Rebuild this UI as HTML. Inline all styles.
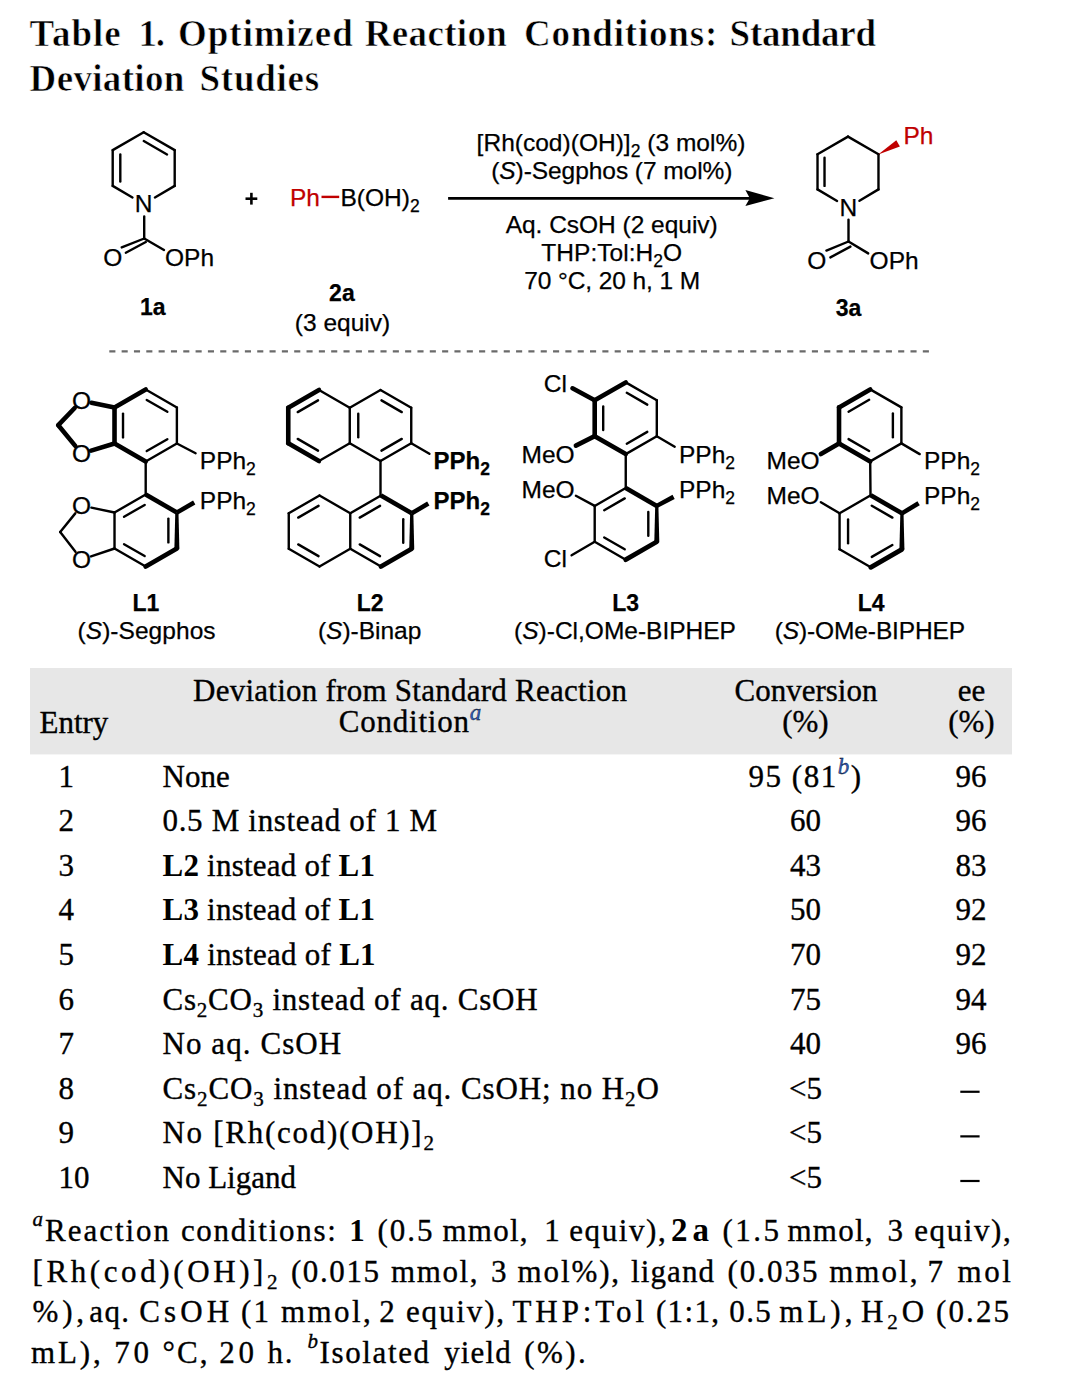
<!DOCTYPE html>
<html><head><meta charset="utf-8"><title>Table 1</title>
<style>html,body{margin:0;padding:0;background:#fff;}body{width:1080px;height:1387px;overflow:hidden;}svg{display:block;}text{white-space:pre;}</style>
</head><body>
<svg width="1080" height="1387" viewBox="0 0 1080 1387"><text x="29.60" y="45.80" font-family="Liberation Serif" font-size="37" font-weight="bold" text-anchor="start" fill="#000" stroke="#fff" stroke-width="0.6" textLength="91.1" lengthAdjust="spacing" style="">Table</text>
<text x="138.40" y="45.80" font-family="Liberation Serif" font-size="37" font-weight="bold" text-anchor="start" fill="#000" stroke="#fff" stroke-width="0.6" textLength="26.6" lengthAdjust="spacing" style="">1.</text>
<text x="177.90" y="45.80" font-family="Liberation Serif" font-size="37" font-weight="bold" text-anchor="start" fill="#000" stroke="#fff" stroke-width="0.6" textLength="174.9" lengthAdjust="spacing" style="">Optimized</text>
<text x="364.70" y="45.80" font-family="Liberation Serif" font-size="37" font-weight="bold" text-anchor="start" fill="#000" stroke="#fff" stroke-width="0.6" textLength="142.2" lengthAdjust="spacing" style="">Reaction</text>
<text x="524.00" y="45.80" font-family="Liberation Serif" font-size="37" font-weight="bold" text-anchor="start" fill="#000" stroke="#fff" stroke-width="0.6" textLength="193.3" lengthAdjust="spacing" style="">Conditions:</text>
<text x="729.60" y="45.80" font-family="Liberation Serif" font-size="37" font-weight="bold" text-anchor="start" fill="#000" stroke="#fff" stroke-width="0.6" textLength="146.5" lengthAdjust="spacing" style="">Standard</text>
<text x="29.60" y="91.00" font-family="Liberation Serif" font-size="37" font-weight="bold" text-anchor="start" fill="#000" stroke="#fff" stroke-width="0.6" textLength="154.7" lengthAdjust="spacing" style="">Deviation</text>
<text x="199.50" y="91.00" font-family="Liberation Serif" font-size="37" font-weight="bold" text-anchor="start" fill="#000" stroke="#fff" stroke-width="0.6" textLength="119.6" lengthAdjust="spacing" style="">Studies</text>
<line x1="143.70" y1="132.20" x2="174.70" y2="150.10" stroke="#000" stroke-width="2.4" stroke-linecap="round"/>
<line x1="174.70" y1="150.10" x2="174.70" y2="185.90" stroke="#000" stroke-width="2.4" stroke-linecap="round"/>
<line x1="112.70" y1="185.90" x2="112.70" y2="150.10" stroke="#000" stroke-width="2.4" stroke-linecap="round"/>
<line x1="112.70" y1="150.10" x2="143.70" y2="132.20" stroke="#000" stroke-width="2.4" stroke-linecap="round"/>
<line x1="174.70" y1="185.90" x2="154.93" y2="197.45" stroke="#000" stroke-width="2.4" stroke-linecap="round"/>
<line x1="112.70" y1="185.90" x2="132.47" y2="197.45" stroke="#000" stroke-width="2.4" stroke-linecap="round"/>
<line x1="120.30" y1="154.57" x2="120.30" y2="181.43" stroke="#000" stroke-width="2.4" stroke-linecap="round"/>
<line x1="143.78" y1="141.02" x2="167.03" y2="154.44" stroke="#000" stroke-width="2.4" stroke-linecap="round"/>
<text x="143.50" y="212.20" font-family="Liberation Sans" font-size="24.5" font-weight="normal" text-anchor="middle" fill="#000"  stroke="#000" stroke-width="0.25" style="">N</text>
<line x1="144.20" y1="216.50" x2="144.20" y2="238.50" stroke="#000" stroke-width="2.4" stroke-linecap="round"/>
<line x1="144.20" y1="238.50" x2="121.70" y2="247.40" stroke="#000" stroke-width="2.4" stroke-linecap="round"/>
<line x1="125.80" y1="252.80" x2="145.80" y2="242.00" stroke="#000" stroke-width="2.4" stroke-linecap="round"/>
<line x1="144.20" y1="238.50" x2="164.00" y2="250.00" stroke="#000" stroke-width="2.4" stroke-linecap="round"/>
<text x="112.80" y="265.90" font-family="Liberation Sans" font-size="24.5" font-weight="normal" text-anchor="middle" fill="#000"  stroke="#000" stroke-width="0.25" style="">O</text>
<text x="165.00" y="265.90" font-family="Liberation Sans" font-size="24.5" font-weight="normal" text-anchor="start" fill="#000"  stroke="#000" stroke-width="0.25" style="">OPh</text>
<text x="152.80" y="315.20" font-family="Liberation Sans" font-size="23" font-weight="bold" text-anchor="middle" fill="#000"  stroke="#000" stroke-width="0.25" style="">1a</text>
<line x1="245.50" y1="198.70" x2="257.30" y2="198.70" stroke="#000" stroke-width="2.6" stroke-linecap="butt"/>
<line x1="251.40" y1="192.80" x2="251.40" y2="204.60" stroke="#000" stroke-width="2.6" stroke-linecap="butt"/>
<text x="290.00" y="206.40" font-family="Liberation Sans" font-size="24.5" font-weight="normal" text-anchor="start" fill="#c00000"  stroke="#c00000" stroke-width="0.25" style="">Ph</text>
<line x1="321.50" y1="196.90" x2="339.20" y2="196.90" stroke="#c00000" stroke-width="2.4" stroke-linecap="butt"/>
<text x="340.50" y="206.40" font-family="Liberation Sans" font-size="24.5" font-weight="normal" text-anchor="start" fill="#000"  stroke="#000" stroke-width="0.25" style="">B(OH)<tspan font-size="17.5" baseline-shift="-5.5">2</tspan></text>
<text x="341.90" y="301.30" font-family="Liberation Sans" font-size="23" font-weight="bold" text-anchor="middle" fill="#000"  stroke="#000" stroke-width="0.25" style="">2a</text>
<text x="342.50" y="330.80" font-family="Liberation Sans" font-size="24.5" font-weight="normal" text-anchor="middle" fill="#000"  stroke="#000" stroke-width="0.25" textLength="95.3" lengthAdjust="spacing" style="">(3 equiv)</text>
<line x1="448.10" y1="198.30" x2="752.00" y2="198.30" stroke="#000" stroke-width="2.8" stroke-linecap="butt"/>
<polygon points="774.40,198.30 745.40,190.00 749.80,198.30 745.40,206.00" fill="#000"/>
<text x="611.00" y="150.70" font-family="Liberation Sans" font-size="24.5" font-weight="normal" text-anchor="middle" fill="#000"  stroke="#000" stroke-width="0.25" textLength="268.8" lengthAdjust="spacing" style="">[Rh(cod)(OH)]<tspan font-size="17.5" baseline-shift="-5.5">2</tspan> (3 mol%)</text>
<text x="611.80" y="178.50" font-family="Liberation Sans" font-size="24.5" font-weight="normal" text-anchor="middle" fill="#000"  stroke="#000" stroke-width="0.25" textLength="241.3" lengthAdjust="spacing" style="">(<tspan font-style="italic">S</tspan>)-Segphos (7 mol%)</text>
<text x="611.70" y="233.30" font-family="Liberation Sans" font-size="24.5" font-weight="normal" text-anchor="middle" fill="#000"  stroke="#000" stroke-width="0.25" textLength="212.1" lengthAdjust="spacing" style="">Aq. CsOH (2 equiv)</text>
<text x="611.70" y="261.10" font-family="Liberation Sans" font-size="24.5" font-weight="normal" text-anchor="middle" fill="#000"  stroke="#000" stroke-width="0.25" textLength="140.9" lengthAdjust="spacing" style="">THP:Tol:H<tspan font-size="17.5" baseline-shift="-5.5">2</tspan>O</text>
<text x="612.10" y="289.30" font-family="Liberation Sans" font-size="24.5" font-weight="normal" text-anchor="middle" fill="#000"  stroke="#000" stroke-width="0.25" textLength="175.9" lengthAdjust="spacing" style="">70 °C, 20 h, 1 M</text>
<line x1="848.00" y1="136.60" x2="878.48" y2="154.20" stroke="#000" stroke-width="2.4" stroke-linecap="round"/>
<line x1="878.48" y1="154.20" x2="878.48" y2="189.40" stroke="#000" stroke-width="2.4" stroke-linecap="round"/>
<line x1="817.52" y1="189.40" x2="817.52" y2="154.20" stroke="#000" stroke-width="2.4" stroke-linecap="round"/>
<line x1="817.52" y1="154.20" x2="848.00" y2="136.60" stroke="#000" stroke-width="2.4" stroke-linecap="round"/>
<line x1="878.48" y1="189.40" x2="859.45" y2="200.81" stroke="#000" stroke-width="2.4" stroke-linecap="round"/>
<line x1="817.52" y1="189.40" x2="837.09" y2="200.91" stroke="#000" stroke-width="2.4" stroke-linecap="round"/>
<line x1="824.52" y1="157.72" x2="824.52" y2="185.88" stroke="#000" stroke-width="2.4" stroke-linecap="round"/>
<polygon points="878.18,154.50 896.30,140.20 899.90,146.60" fill="#c00000"/>
<text x="903.50" y="143.80" font-family="Liberation Sans" font-size="24.5" font-weight="normal" text-anchor="start" fill="#c00000"  stroke="#c00000" stroke-width="0.25" style="">Ph</text>
<text x="848.30" y="215.70" font-family="Liberation Sans" font-size="24.5" font-weight="normal" text-anchor="middle" fill="#000"  stroke="#000" stroke-width="0.25" style="">N</text>
<line x1="848.50" y1="219.80" x2="848.50" y2="241.50" stroke="#000" stroke-width="2.4" stroke-linecap="round"/>
<line x1="848.50" y1="241.50" x2="826.40" y2="250.60" stroke="#000" stroke-width="2.4" stroke-linecap="round"/>
<line x1="830.40" y1="257.40" x2="850.40" y2="246.60" stroke="#000" stroke-width="2.4" stroke-linecap="round"/>
<line x1="848.50" y1="241.50" x2="868.20" y2="253.40" stroke="#000" stroke-width="2.4" stroke-linecap="round"/>
<text x="816.70" y="269.40" font-family="Liberation Sans" font-size="24.5" font-weight="normal" text-anchor="middle" fill="#000"  stroke="#000" stroke-width="0.25" style="">O</text>
<text x="869.60" y="269.40" font-family="Liberation Sans" font-size="24.5" font-weight="normal" text-anchor="start" fill="#000"  stroke="#000" stroke-width="0.25" style="">OPh</text>
<text x="848.50" y="315.60" font-family="Liberation Sans" font-size="23" font-weight="bold" text-anchor="middle" fill="#000"  stroke="#000" stroke-width="0.25" style="">3a</text>
<line x1="109.3" y1="351.3" x2="929" y2="351.3" stroke="#6a6a6a" stroke-width="2.2" stroke-dasharray="6.1 6.226"/>
<line x1="145.70" y1="389.50" x2="114.52" y2="407.50" stroke="#000" stroke-width="4.6" stroke-linecap="round"/>
<line x1="114.52" y1="407.50" x2="114.52" y2="443.50" stroke="#000" stroke-width="4.6" stroke-linecap="round"/>
<line x1="114.52" y1="443.50" x2="145.70" y2="461.50" stroke="#000" stroke-width="4.6" stroke-linecap="round"/>
<line x1="145.70" y1="389.50" x2="176.88" y2="407.50" stroke="#000" stroke-width="2.4" stroke-linecap="round"/>
<line x1="176.88" y1="407.50" x2="176.88" y2="443.50" stroke="#000" stroke-width="2.4" stroke-linecap="round"/>
<line x1="176.88" y1="443.50" x2="145.70" y2="461.50" stroke="#000" stroke-width="2.4" stroke-linecap="round"/>
<line x1="146.75" y1="399.92" x2="167.33" y2="411.80" stroke="#000" stroke-width="2.4" stroke-linecap="round"/>
<line x1="123.02" y1="413.62" x2="123.02" y2="437.38" stroke="#000" stroke-width="2.4" stroke-linecap="round"/>
<line x1="167.33" y1="439.20" x2="146.75" y2="451.08" stroke="#000" stroke-width="2.4" stroke-linecap="round"/>
<line x1="114.52" y1="407.50" x2="91.40" y2="402.79" stroke="#000" stroke-width="4.6" stroke-linecap="round"/>
<line x1="114.52" y1="443.50" x2="91.16" y2="450.67" stroke="#000" stroke-width="4.6" stroke-linecap="round"/>
<line x1="74.69" y1="408.03" x2="58.30" y2="425.20" stroke="#000" stroke-width="4.6" stroke-linecap="round"/>
<line x1="58.30" y1="425.20" x2="75.26" y2="445.87" stroke="#000" stroke-width="4.6" stroke-linecap="round"/>
<text x="81.60" y="409.00" font-family="Liberation Sans" font-size="24.5" font-weight="normal" text-anchor="middle" fill="#000"  stroke="#000" stroke-width="0.25" style="">O</text>
<text x="81.60" y="461.80" font-family="Liberation Sans" font-size="24.5" font-weight="normal" text-anchor="middle" fill="#000"  stroke="#000" stroke-width="0.25" style="">O</text>
<line x1="176.88" y1="443.50" x2="195.60" y2="453.20" stroke="#000" stroke-width="2.4" stroke-linecap="round"/>
<text x="199.80" y="469.10" font-family="Liberation Sans" font-size="24.5" font-weight="normal" text-anchor="start" fill="#000"  stroke="#000" stroke-width="0.25" style="">PPh<tspan font-size="17.5" baseline-shift="-5.5">2</tspan></text>
<line x1="145.70" y1="461.50" x2="145.70" y2="494.80" stroke="#000" stroke-width="2.4" stroke-linecap="round"/>
<polygon points="144.55,496.49 175.73,514.49 178.03,510.51 146.85,492.51" fill="#000"/>
<polygon points="175.28,512.50 174.38,548.50 179.38,548.50 178.48,512.50" fill="#000"/>
<line x1="176.88" y1="548.50" x2="145.70" y2="566.50" stroke="#000" stroke-width="4.8" stroke-linecap="round"/>
<line x1="145.70" y1="566.50" x2="114.52" y2="548.50" stroke="#000" stroke-width="2.4" stroke-linecap="round"/>
<line x1="114.52" y1="548.50" x2="114.52" y2="512.50" stroke="#000" stroke-width="2.4" stroke-linecap="round"/>
<line x1="114.52" y1="512.50" x2="145.70" y2="494.50" stroke="#000" stroke-width="2.4" stroke-linecap="round"/>
<line x1="144.65" y1="504.92" x2="124.07" y2="516.80" stroke="#000" stroke-width="2.4" stroke-linecap="round"/>
<line x1="168.38" y1="518.62" x2="168.38" y2="542.38" stroke="#000" stroke-width="2.4" stroke-linecap="round"/>
<line x1="144.65" y1="556.08" x2="124.07" y2="544.20" stroke="#000" stroke-width="2.4" stroke-linecap="round"/>
<polygon points="177.97,514.41 195.34,504.60 193.06,500.60 175.79,510.59" fill="#000"/>
<text x="199.80" y="509.40" font-family="Liberation Sans" font-size="24.5" font-weight="normal" text-anchor="start" fill="#000"  stroke="#000" stroke-width="0.25" style="">PPh<tspan font-size="17.5" baseline-shift="-5.5">2</tspan></text>
<line x1="114.52" y1="512.50" x2="91.39" y2="507.65" stroke="#000" stroke-width="2.4" stroke-linecap="round"/>
<line x1="114.52" y1="548.50" x2="91.08" y2="556.41" stroke="#000" stroke-width="2.4" stroke-linecap="round"/>
<line x1="75.30" y1="513.37" x2="60.20" y2="532.00" stroke="#000" stroke-width="2.4" stroke-linecap="round"/>
<line x1="60.20" y1="532.00" x2="75.47" y2="551.70" stroke="#000" stroke-width="2.4" stroke-linecap="round"/>
<text x="81.60" y="513.80" font-family="Liberation Sans" font-size="24.5" font-weight="normal" text-anchor="middle" fill="#000"  stroke="#000" stroke-width="0.25" style="">O</text>
<text x="81.60" y="567.80" font-family="Liberation Sans" font-size="24.5" font-weight="normal" text-anchor="middle" fill="#000"  stroke="#000" stroke-width="0.25" style="">O</text>
<text x="145.90" y="610.60" font-family="Liberation Sans" font-size="23" font-weight="bold" text-anchor="middle" fill="#000"  stroke="#000" stroke-width="0.25" style="">L1</text>
<text x="146.55" y="639.10" font-family="Liberation Sans" font-size="24.5" font-weight="normal" text-anchor="middle" fill="#000"  stroke="#000" stroke-width="0.25" textLength="138" lengthAdjust="spacing" style="">(<tspan font-style="italic">S</tspan>)-Segphos</text>
<line x1="319.00" y1="390.00" x2="288.26" y2="407.75" stroke="#000" stroke-width="4.6" stroke-linecap="round"/>
<line x1="288.26" y1="407.75" x2="288.26" y2="443.25" stroke="#000" stroke-width="4.6" stroke-linecap="round"/>
<line x1="288.26" y1="443.25" x2="319.00" y2="461.00" stroke="#000" stroke-width="4.6" stroke-linecap="round"/>
<line x1="319.00" y1="390.00" x2="349.74" y2="407.75" stroke="#000" stroke-width="2.4" stroke-linecap="round"/>
<line x1="349.74" y1="443.25" x2="319.00" y2="461.00" stroke="#000" stroke-width="2.4" stroke-linecap="round"/>
<line x1="349.76" y1="407.75" x2="349.76" y2="443.25" stroke="#000" stroke-width="2.4" stroke-linecap="round"/>
<line x1="349.76" y1="407.75" x2="380.50" y2="390.00" stroke="#000" stroke-width="2.4" stroke-linecap="round"/>
<line x1="380.50" y1="390.00" x2="411.24" y2="407.75" stroke="#000" stroke-width="2.4" stroke-linecap="round"/>
<line x1="411.24" y1="407.75" x2="411.24" y2="443.25" stroke="#000" stroke-width="2.4" stroke-linecap="round"/>
<line x1="411.24" y1="443.25" x2="380.50" y2="461.00" stroke="#000" stroke-width="2.4" stroke-linecap="round"/>
<line x1="380.50" y1="461.00" x2="349.76" y2="443.25" stroke="#000" stroke-width="2.4" stroke-linecap="round"/>
<line x1="318.02" y1="400.38" x2="297.73" y2="412.09" stroke="#000" stroke-width="2.4" stroke-linecap="round"/>
<line x1="297.73" y1="438.91" x2="318.02" y2="450.62" stroke="#000" stroke-width="2.4" stroke-linecap="round"/>
<line x1="358.26" y1="413.79" x2="358.26" y2="437.21" stroke="#000" stroke-width="2.4" stroke-linecap="round"/>
<line x1="381.48" y1="400.38" x2="401.77" y2="412.09" stroke="#000" stroke-width="2.4" stroke-linecap="round"/>
<line x1="401.77" y1="438.91" x2="381.48" y2="450.62" stroke="#000" stroke-width="2.4" stroke-linecap="round"/>
<line x1="411.24" y1="443.25" x2="429.40" y2="453.80" stroke="#000" stroke-width="2.4" stroke-linecap="round"/>
<text x="433.50" y="468.70" font-family="Liberation Sans" font-size="24" font-weight="bold" text-anchor="start" fill="#000"  stroke="#000" stroke-width="0.25" style="">PPh<tspan font-size="17.5" baseline-shift="-5.5">2</tspan></text>
<line x1="380.50" y1="461.00" x2="380.50" y2="495.50" stroke="#000" stroke-width="2.4" stroke-linecap="round"/>
<line x1="319.50" y1="495.50" x2="288.76" y2="513.25" stroke="#000" stroke-width="2.4" stroke-linecap="round"/>
<line x1="288.76" y1="513.25" x2="288.76" y2="548.75" stroke="#000" stroke-width="2.4" stroke-linecap="round"/>
<line x1="288.76" y1="548.75" x2="319.50" y2="566.50" stroke="#000" stroke-width="2.4" stroke-linecap="round"/>
<line x1="319.50" y1="495.50" x2="350.24" y2="513.25" stroke="#000" stroke-width="2.4" stroke-linecap="round"/>
<line x1="350.24" y1="548.75" x2="319.50" y2="566.50" stroke="#000" stroke-width="2.4" stroke-linecap="round"/>
<line x1="350.26" y1="513.25" x2="350.26" y2="548.75" stroke="#000" stroke-width="2.4" stroke-linecap="round"/>
<line x1="350.26" y1="513.25" x2="381.00" y2="495.50" stroke="#000" stroke-width="2.4" stroke-linecap="round"/>
<polygon points="379.85,497.49 410.59,515.24 412.89,511.26 382.15,493.51" fill="#000"/>
<polygon points="410.14,513.25 409.24,548.75 414.24,548.75 413.34,513.25" fill="#000"/>
<line x1="411.74" y1="548.75" x2="381.00" y2="566.50" stroke="#000" stroke-width="4.8" stroke-linecap="round"/>
<line x1="381.00" y1="566.50" x2="350.26" y2="548.75" stroke="#000" stroke-width="2.4" stroke-linecap="round"/>
<line x1="318.52" y1="505.88" x2="298.23" y2="517.59" stroke="#000" stroke-width="2.4" stroke-linecap="round"/>
<line x1="298.23" y1="544.41" x2="318.52" y2="556.12" stroke="#000" stroke-width="2.4" stroke-linecap="round"/>
<line x1="359.73" y1="517.59" x2="380.02" y2="505.88" stroke="#000" stroke-width="2.4" stroke-linecap="round"/>
<line x1="403.24" y1="519.28" x2="403.24" y2="542.72" stroke="#000" stroke-width="2.4" stroke-linecap="round"/>
<line x1="359.73" y1="544.41" x2="380.02" y2="556.12" stroke="#000" stroke-width="2.4" stroke-linecap="round"/>
<polygon points="412.85,515.15 429.46,505.59 427.14,501.61 410.64,511.35" fill="#000"/>
<text x="433.50" y="509.20" font-family="Liberation Sans" font-size="24" font-weight="bold" text-anchor="start" fill="#000"  stroke="#000" stroke-width="0.25" style="">PPh<tspan font-size="17.5" baseline-shift="-5.5">2</tspan></text>
<text x="370.20" y="610.60" font-family="Liberation Sans" font-size="23" font-weight="bold" text-anchor="middle" fill="#000"  stroke="#000" stroke-width="0.25" style="">L2</text>
<text x="369.65" y="639.10" font-family="Liberation Sans" font-size="24.5" font-weight="normal" text-anchor="middle" fill="#000"  stroke="#000" stroke-width="0.25" textLength="103.4" lengthAdjust="spacing" style="">(<tspan font-style="italic">S</tspan>)-Binap</text>
<line x1="625.75" y1="382.40" x2="594.70" y2="400.32" stroke="#000" stroke-width="4.6" stroke-linecap="round"/>
<line x1="594.70" y1="400.32" x2="594.70" y2="436.18" stroke="#000" stroke-width="4.6" stroke-linecap="round"/>
<line x1="594.70" y1="436.18" x2="625.75" y2="454.10" stroke="#000" stroke-width="4.6" stroke-linecap="round"/>
<line x1="625.75" y1="382.40" x2="656.80" y2="400.32" stroke="#000" stroke-width="2.4" stroke-linecap="round"/>
<line x1="656.80" y1="400.32" x2="656.80" y2="436.18" stroke="#000" stroke-width="2.4" stroke-linecap="round"/>
<line x1="656.80" y1="436.18" x2="625.75" y2="454.10" stroke="#000" stroke-width="2.4" stroke-linecap="round"/>
<line x1="626.78" y1="392.81" x2="647.27" y2="404.64" stroke="#000" stroke-width="2.4" stroke-linecap="round"/>
<line x1="603.20" y1="406.42" x2="603.20" y2="430.08" stroke="#000" stroke-width="2.4" stroke-linecap="round"/>
<line x1="647.27" y1="431.86" x2="626.78" y2="443.69" stroke="#000" stroke-width="2.4" stroke-linecap="round"/>
<line x1="594.70" y1="400.32" x2="572.50" y2="388.30" stroke="#000" stroke-width="4.6" stroke-linecap="round"/>
<text x="543.80" y="392.40" font-family="Liberation Sans" font-size="24.5" font-weight="normal" text-anchor="start" fill="#000"  stroke="#000" stroke-width="0.25" style="">Cl</text>
<line x1="594.70" y1="436.18" x2="575.90" y2="445.60" stroke="#000" stroke-width="4.6" stroke-linecap="round"/>
<text x="521.50" y="462.60" font-family="Liberation Sans" font-size="24.5" font-weight="normal" text-anchor="start" fill="#000"  stroke="#000" stroke-width="0.25" style="">MeO</text>
<line x1="656.80" y1="436.18" x2="674.70" y2="446.70" stroke="#000" stroke-width="2.4" stroke-linecap="round"/>
<text x="679.00" y="462.60" font-family="Liberation Sans" font-size="24.5" font-weight="normal" text-anchor="start" fill="#000"  stroke="#000" stroke-width="0.25" style="">PPh<tspan font-size="17.5" baseline-shift="-5.5">2</tspan></text>
<line x1="625.75" y1="454.10" x2="625.75" y2="488.20" stroke="#000" stroke-width="2.4" stroke-linecap="round"/>
<polygon points="624.60,489.99 655.65,507.92 657.95,503.93 626.90,486.01" fill="#000"/>
<polygon points="655.20,505.93 654.30,541.77 659.30,541.77 658.40,505.93" fill="#000"/>
<line x1="656.80" y1="541.77" x2="625.75" y2="559.70" stroke="#000" stroke-width="4.8" stroke-linecap="round"/>
<line x1="625.75" y1="559.70" x2="594.70" y2="541.77" stroke="#000" stroke-width="2.4" stroke-linecap="round"/>
<line x1="594.70" y1="541.77" x2="594.70" y2="505.93" stroke="#000" stroke-width="2.4" stroke-linecap="round"/>
<line x1="594.70" y1="505.93" x2="625.75" y2="488.00" stroke="#000" stroke-width="2.4" stroke-linecap="round"/>
<line x1="624.72" y1="498.41" x2="604.23" y2="510.24" stroke="#000" stroke-width="2.4" stroke-linecap="round"/>
<line x1="648.30" y1="512.02" x2="648.30" y2="535.68" stroke="#000" stroke-width="2.4" stroke-linecap="round"/>
<line x1="624.72" y1="549.29" x2="604.23" y2="537.46" stroke="#000" stroke-width="2.4" stroke-linecap="round"/>
<polygon points="657.84,507.86 674.69,498.93 672.51,494.87 655.76,503.99" fill="#000"/>
<text x="679.00" y="497.80" font-family="Liberation Sans" font-size="24.5" font-weight="normal" text-anchor="start" fill="#000"  stroke="#000" stroke-width="0.25" style="">PPh<tspan font-size="17.5" baseline-shift="-5.5">2</tspan></text>
<line x1="594.70" y1="505.93" x2="575.90" y2="495.80" stroke="#000" stroke-width="2.4" stroke-linecap="round"/>
<text x="521.50" y="497.80" font-family="Liberation Sans" font-size="24.5" font-weight="normal" text-anchor="start" fill="#000"  stroke="#000" stroke-width="0.25" style="">MeO</text>
<line x1="594.70" y1="541.77" x2="571.60" y2="555.30" stroke="#000" stroke-width="2.4" stroke-linecap="round"/>
<text x="543.80" y="567.00" font-family="Liberation Sans" font-size="24.5" font-weight="normal" text-anchor="start" fill="#000"  stroke="#000" stroke-width="0.25" style="">Cl</text>
<text x="625.70" y="610.60" font-family="Liberation Sans" font-size="23" font-weight="bold" text-anchor="middle" fill="#000"  stroke="#000" stroke-width="0.25" style="">L3</text>
<text x="625.00" y="639.10" font-family="Liberation Sans" font-size="24.5" font-weight="normal" text-anchor="middle" fill="#000"  stroke="#000" stroke-width="0.25" textLength="221.9" lengthAdjust="spacing" style="">(<tspan font-style="italic">S</tspan>)-Cl,OMe-BIPHEP</text>
<line x1="870.20" y1="389.40" x2="839.02" y2="407.40" stroke="#000" stroke-width="4.6" stroke-linecap="round"/>
<line x1="839.02" y1="407.40" x2="839.02" y2="443.40" stroke="#000" stroke-width="4.6" stroke-linecap="round"/>
<line x1="839.02" y1="443.40" x2="870.20" y2="461.40" stroke="#000" stroke-width="4.6" stroke-linecap="round"/>
<line x1="870.20" y1="389.40" x2="901.38" y2="407.40" stroke="#000" stroke-width="2.4" stroke-linecap="round"/>
<line x1="901.38" y1="407.40" x2="901.38" y2="443.40" stroke="#000" stroke-width="2.4" stroke-linecap="round"/>
<line x1="901.38" y1="443.40" x2="870.20" y2="461.40" stroke="#000" stroke-width="2.4" stroke-linecap="round"/>
<line x1="869.15" y1="399.82" x2="848.57" y2="411.70" stroke="#000" stroke-width="2.4" stroke-linecap="round"/>
<line x1="892.88" y1="413.52" x2="892.88" y2="437.28" stroke="#000" stroke-width="2.4" stroke-linecap="round"/>
<line x1="848.57" y1="439.10" x2="869.15" y2="450.98" stroke="#000" stroke-width="2.4" stroke-linecap="round"/>
<line x1="839.02" y1="443.40" x2="820.90" y2="454.10" stroke="#000" stroke-width="4.6" stroke-linecap="round"/>
<text x="766.50" y="469.00" font-family="Liberation Sans" font-size="24.5" font-weight="normal" text-anchor="start" fill="#000"  stroke="#000" stroke-width="0.25" style="">MeO</text>
<line x1="901.38" y1="443.40" x2="919.70" y2="454.10" stroke="#000" stroke-width="2.4" stroke-linecap="round"/>
<text x="924.00" y="469.00" font-family="Liberation Sans" font-size="24.5" font-weight="normal" text-anchor="start" fill="#000"  stroke="#000" stroke-width="0.25" style="">PPh<tspan font-size="17.5" baseline-shift="-5.5">2</tspan></text>
<line x1="870.20" y1="461.40" x2="870.50" y2="495.60" stroke="#000" stroke-width="2.4" stroke-linecap="round"/>
<polygon points="869.60,497.29 900.78,515.29 903.08,511.31 871.90,493.31" fill="#000"/>
<polygon points="900.33,513.30 899.43,549.30 904.43,549.30 903.53,513.30" fill="#000"/>
<line x1="901.93" y1="549.30" x2="870.75" y2="567.30" stroke="#000" stroke-width="4.8" stroke-linecap="round"/>
<line x1="870.75" y1="567.30" x2="839.57" y2="549.30" stroke="#000" stroke-width="2.4" stroke-linecap="round"/>
<line x1="839.57" y1="549.30" x2="839.57" y2="513.30" stroke="#000" stroke-width="2.4" stroke-linecap="round"/>
<line x1="839.57" y1="513.30" x2="870.75" y2="495.30" stroke="#000" stroke-width="2.4" stroke-linecap="round"/>
<line x1="871.80" y1="505.72" x2="892.38" y2="517.60" stroke="#000" stroke-width="2.4" stroke-linecap="round"/>
<line x1="848.07" y1="519.42" x2="848.07" y2="543.18" stroke="#000" stroke-width="2.4" stroke-linecap="round"/>
<line x1="892.38" y1="545.00" x2="871.80" y2="556.88" stroke="#000" stroke-width="2.4" stroke-linecap="round"/>
<polygon points="903.06,515.19 919.78,505.27 917.42,501.33 900.80,511.41" fill="#000"/>
<text x="924.00" y="504.20" font-family="Liberation Sans" font-size="24.5" font-weight="normal" text-anchor="start" fill="#000"  stroke="#000" stroke-width="0.25" style="">PPh<tspan font-size="17.5" baseline-shift="-5.5">2</tspan></text>
<line x1="839.57" y1="513.30" x2="820.90" y2="502.20" stroke="#000" stroke-width="2.4" stroke-linecap="round"/>
<text x="766.50" y="504.20" font-family="Liberation Sans" font-size="24.5" font-weight="normal" text-anchor="start" fill="#000"  stroke="#000" stroke-width="0.25" style="">MeO</text>
<text x="871.10" y="610.60" font-family="Liberation Sans" font-size="23" font-weight="bold" text-anchor="middle" fill="#000"  stroke="#000" stroke-width="0.25" style="">L4</text>
<text x="869.95" y="639.10" font-family="Liberation Sans" font-size="24.5" font-weight="normal" text-anchor="middle" fill="#000"  stroke="#000" stroke-width="0.25" textLength="190.4" lengthAdjust="spacing" style="">(<tspan font-style="italic">S</tspan>)-OMe-BIPHEP</text>
<rect x="30" y="668" width="982" height="86.4" fill="#e7e7e7"/>
<text x="39.50" y="733.30" font-family="Liberation Serif" font-size="31" font-weight="normal" text-anchor="start" fill="#000"  stroke="#000" stroke-width="0.35" style="">Entry</text>
<text x="410.00" y="701.20" font-family="Liberation Serif" font-size="31" font-weight="normal" text-anchor="middle" fill="#000" textLength="434" lengthAdjust="spacing" stroke="#000" stroke-width="0.35" style="">Deviation from Standard Reaction</text>
<text x="410.00" y="732.30" font-family="Liberation Serif" font-size="31" font-weight="normal" text-anchor="middle" fill="#000"  stroke="#000" stroke-width="0.35" textLength="142.5" lengthAdjust="spacing" style="">Condition<tspan font-style="italic" font-size="23" baseline-shift="12" fill="#2f5cbd">a</tspan></text>
<text x="806.00" y="700.60" font-family="Liberation Serif" font-size="31" font-weight="normal" text-anchor="middle" fill="#000"  stroke="#000" stroke-width="0.35" style="">Conversion</text>
<text x="805.40" y="731.70" font-family="Liberation Serif" font-size="31" font-weight="normal" text-anchor="middle" fill="#000"  stroke="#000" stroke-width="0.35" style="">(%)</text>
<text x="971.40" y="700.60" font-family="Liberation Serif" font-size="31" font-weight="normal" text-anchor="middle" fill="#000"  stroke="#000" stroke-width="0.35" style="">ee</text>
<text x="971.40" y="731.70" font-family="Liberation Serif" font-size="31" font-weight="normal" text-anchor="middle" fill="#000"  stroke="#000" stroke-width="0.35" style="">(%)</text>
<text x="58.50" y="786.50" font-family="Liberation Serif" font-size="31" font-weight="normal" text-anchor="start" fill="#000"  stroke="#000" stroke-width="0.35" style="">1</text>
<text x="162.50" y="786.50" font-family="Liberation Serif" font-size="31" font-weight="normal" text-anchor="start" fill="#000"  stroke="#000" stroke-width="0.35" style="">None</text>
<text x="804.75" y="786.50" font-family="Liberation Serif" font-size="31" font-weight="normal" text-anchor="middle" fill="#000"  stroke="#000" stroke-width="0.35" textLength="112.5" lengthAdjust="spacing" style="">95 (81<tspan font-style="italic" font-size="23" baseline-shift="13" fill="#2f5cbd">b</tspan>)</text>
<text x="971.00" y="786.50" font-family="Liberation Serif" font-size="31" font-weight="normal" text-anchor="middle" fill="#000"  stroke="#000" stroke-width="0.35" style="">96</text>
<text x="58.50" y="831.11" font-family="Liberation Serif" font-size="31" font-weight="normal" text-anchor="start" fill="#000"  stroke="#000" stroke-width="0.35" style="">2</text>
<text x="162.50" y="831.11" font-family="Liberation Serif" font-size="31" font-weight="normal" text-anchor="start" fill="#000"  stroke="#000" stroke-width="0.35" textLength="274.6" lengthAdjust="spacing" style="">0.5 M instead of 1 M</text>
<text x="805.50" y="831.11" font-family="Liberation Serif" font-size="31" font-weight="normal" text-anchor="middle" fill="#000"  stroke="#000" stroke-width="0.35" style="">60</text>
<text x="971.00" y="831.11" font-family="Liberation Serif" font-size="31" font-weight="normal" text-anchor="middle" fill="#000"  stroke="#000" stroke-width="0.35" style="">96</text>
<text x="58.50" y="875.72" font-family="Liberation Serif" font-size="31" font-weight="normal" text-anchor="start" fill="#000"  stroke="#000" stroke-width="0.35" style="">3</text>
<text x="162.50" y="875.72" font-family="Liberation Serif" font-size="31" font-weight="normal" text-anchor="start" fill="#000"  stroke="#000" stroke-width="0.35" textLength="212.5" lengthAdjust="spacing" style=""><tspan font-weight="bold" stroke-width="0">L2</tspan> instead of <tspan font-weight="bold" stroke-width="0">L1</tspan></text>
<text x="805.50" y="875.72" font-family="Liberation Serif" font-size="31" font-weight="normal" text-anchor="middle" fill="#000"  stroke="#000" stroke-width="0.35" style="">43</text>
<text x="971.00" y="875.72" font-family="Liberation Serif" font-size="31" font-weight="normal" text-anchor="middle" fill="#000"  stroke="#000" stroke-width="0.35" style="">83</text>
<text x="58.50" y="920.33" font-family="Liberation Serif" font-size="31" font-weight="normal" text-anchor="start" fill="#000"  stroke="#000" stroke-width="0.35" style="">4</text>
<text x="162.50" y="920.33" font-family="Liberation Serif" font-size="31" font-weight="normal" text-anchor="start" fill="#000"  stroke="#000" stroke-width="0.35" textLength="212.5" lengthAdjust="spacing" style=""><tspan font-weight="bold" stroke-width="0">L3</tspan> instead of <tspan font-weight="bold" stroke-width="0">L1</tspan></text>
<text x="805.50" y="920.33" font-family="Liberation Serif" font-size="31" font-weight="normal" text-anchor="middle" fill="#000"  stroke="#000" stroke-width="0.35" style="">50</text>
<text x="971.00" y="920.33" font-family="Liberation Serif" font-size="31" font-weight="normal" text-anchor="middle" fill="#000"  stroke="#000" stroke-width="0.35" style="">92</text>
<text x="58.50" y="964.94" font-family="Liberation Serif" font-size="31" font-weight="normal" text-anchor="start" fill="#000"  stroke="#000" stroke-width="0.35" style="">5</text>
<text x="162.50" y="964.94" font-family="Liberation Serif" font-size="31" font-weight="normal" text-anchor="start" fill="#000"  stroke="#000" stroke-width="0.35" textLength="213.1" lengthAdjust="spacing" style=""><tspan font-weight="bold" stroke-width="0">L4</tspan> instead of <tspan font-weight="bold" stroke-width="0">L1</tspan></text>
<text x="805.50" y="964.94" font-family="Liberation Serif" font-size="31" font-weight="normal" text-anchor="middle" fill="#000"  stroke="#000" stroke-width="0.35" style="">70</text>
<text x="971.00" y="964.94" font-family="Liberation Serif" font-size="31" font-weight="normal" text-anchor="middle" fill="#000"  stroke="#000" stroke-width="0.35" style="">92</text>
<text x="58.50" y="1009.55" font-family="Liberation Serif" font-size="31" font-weight="normal" text-anchor="start" fill="#000"  stroke="#000" stroke-width="0.35" style="">6</text>
<text x="162.50" y="1009.55" font-family="Liberation Serif" font-size="31" font-weight="normal" text-anchor="start" fill="#000"  stroke="#000" stroke-width="0.35" textLength="375.1" lengthAdjust="spacing" style="">Cs<tspan font-size="21" baseline-shift="-7">2</tspan>CO<tspan font-size="21" baseline-shift="-7">3</tspan> instead of aq. CsOH</text>
<text x="805.50" y="1009.55" font-family="Liberation Serif" font-size="31" font-weight="normal" text-anchor="middle" fill="#000"  stroke="#000" stroke-width="0.35" style="">75</text>
<text x="971.00" y="1009.55" font-family="Liberation Serif" font-size="31" font-weight="normal" text-anchor="middle" fill="#000"  stroke="#000" stroke-width="0.35" style="">94</text>
<text x="58.50" y="1054.16" font-family="Liberation Serif" font-size="31" font-weight="normal" text-anchor="start" fill="#000"  stroke="#000" stroke-width="0.35" style="">7</text>
<text x="162.50" y="1054.16" font-family="Liberation Serif" font-size="31" font-weight="normal" text-anchor="start" fill="#000"  stroke="#000" stroke-width="0.35" textLength="178.7" lengthAdjust="spacing" style="">No aq. CsOH</text>
<text x="805.50" y="1054.16" font-family="Liberation Serif" font-size="31" font-weight="normal" text-anchor="middle" fill="#000"  stroke="#000" stroke-width="0.35" style="">40</text>
<text x="971.00" y="1054.16" font-family="Liberation Serif" font-size="31" font-weight="normal" text-anchor="middle" fill="#000"  stroke="#000" stroke-width="0.35" style="">96</text>
<text x="58.50" y="1098.77" font-family="Liberation Serif" font-size="31" font-weight="normal" text-anchor="start" fill="#000"  stroke="#000" stroke-width="0.35" style="">8</text>
<text x="162.50" y="1098.77" font-family="Liberation Serif" font-size="31" font-weight="normal" text-anchor="start" fill="#000"  stroke="#000" stroke-width="0.35" textLength="496.3" lengthAdjust="spacing" style="">Cs<tspan font-size="21" baseline-shift="-7">2</tspan>CO<tspan font-size="21" baseline-shift="-7">3</tspan> instead of aq. CsOH; no H<tspan font-size="21" baseline-shift="-7">2</tspan>O</text>
<text x="805.50" y="1098.77" font-family="Liberation Serif" font-size="31" font-weight="normal" text-anchor="middle" fill="#000"  stroke="#000" stroke-width="0.35" style="">&lt;5</text>
<line x1="960.30" y1="1091.77" x2="979.60" y2="1091.77" stroke="#000" stroke-width="2.2" stroke-linecap="butt"/>
<text x="58.50" y="1143.38" font-family="Liberation Serif" font-size="31" font-weight="normal" text-anchor="start" fill="#000"  stroke="#000" stroke-width="0.35" style="">9</text>
<text x="162.50" y="1143.38" font-family="Liberation Serif" font-size="31" font-weight="normal" text-anchor="start" fill="#000"  stroke="#000" stroke-width="0.35" textLength="271.4" lengthAdjust="spacing" style="">No [Rh(cod)(OH)]<tspan font-size="21" baseline-shift="-7">2</tspan></text>
<text x="805.50" y="1143.38" font-family="Liberation Serif" font-size="31" font-weight="normal" text-anchor="middle" fill="#000"  stroke="#000" stroke-width="0.35" style="">&lt;5</text>
<line x1="960.30" y1="1136.38" x2="979.60" y2="1136.38" stroke="#000" stroke-width="2.2" stroke-linecap="butt"/>
<text x="58.50" y="1187.99" font-family="Liberation Serif" font-size="31" font-weight="normal" text-anchor="start" fill="#000"  stroke="#000" stroke-width="0.35" style="">10</text>
<text x="162.50" y="1187.99" font-family="Liberation Serif" font-size="31" font-weight="normal" text-anchor="start" fill="#000"  stroke="#000" stroke-width="0.35" style="">No Ligand</text>
<text x="805.50" y="1187.99" font-family="Liberation Serif" font-size="31" font-weight="normal" text-anchor="middle" fill="#000"  stroke="#000" stroke-width="0.35" style="">&lt;5</text>
<line x1="960.30" y1="1180.99" x2="979.60" y2="1180.99" stroke="#000" stroke-width="2.2" stroke-linecap="butt"/>
<text x="32.50" y="1240.70" font-family="Liberation Serif" font-size="31" font-weight="normal" text-anchor="start" fill="#000"  stroke="#000" stroke-width="0.35" textLength="136.6" lengthAdjust="spacing" style=""><tspan font-style="italic" font-size="21" baseline-shift="15">a</tspan>Reaction</text>
<text x="180.90" y="1240.70" font-family="Liberation Serif" font-size="31" font-weight="normal" text-anchor="start" fill="#000"  stroke="#000" stroke-width="0.35" textLength="154.9" lengthAdjust="spacing" style="">conditions:</text>
<text x="349.20" y="1240.70" font-family="Liberation Serif" font-size="31" font-weight="normal" text-anchor="start" fill="#000"  stroke="#000" stroke-width="0.35" textLength="14.9" lengthAdjust="spacing" style=""><tspan font-weight="bold" stroke-width="0">1</tspan></text>
<text x="377.50" y="1240.70" font-family="Liberation Serif" font-size="31" font-weight="normal" text-anchor="start" fill="#000"  stroke="#000" stroke-width="0.35" textLength="55.0" lengthAdjust="spacing" style="">(0.5</text>
<text x="442.50" y="1240.70" font-family="Liberation Serif" font-size="31" font-weight="normal" text-anchor="start" fill="#000"  stroke="#000" stroke-width="0.35" textLength="85.0" lengthAdjust="spacing" style="">mmol,</text>
<text x="544.20" y="1240.70" font-family="Liberation Serif" font-size="31" font-weight="normal" text-anchor="start" fill="#000"  stroke="#000" stroke-width="0.35" textLength="11.6" lengthAdjust="spacing" style="">1</text>
<text x="569.20" y="1240.70" font-family="Liberation Serif" font-size="31" font-weight="normal" text-anchor="start" fill="#000"  stroke="#000" stroke-width="0.35" textLength="96.6" lengthAdjust="spacing" style="">equiv),</text>
<text x="670.90" y="1240.70" font-family="Liberation Serif" font-size="31" font-weight="normal" text-anchor="start" fill="#000"  stroke="#000" stroke-width="0.35" textLength="38.2" lengthAdjust="spacing" style=""><tspan font-weight="bold" stroke-width="0" font-size="33">2a</tspan></text>
<text x="722.50" y="1240.70" font-family="Liberation Serif" font-size="31" font-weight="normal" text-anchor="start" fill="#000"  stroke="#000" stroke-width="0.35" textLength="56.6" lengthAdjust="spacing" style="">(1.5</text>
<text x="787.50" y="1240.70" font-family="Liberation Serif" font-size="31" font-weight="normal" text-anchor="start" fill="#000"  stroke="#000" stroke-width="0.35" textLength="85.0" lengthAdjust="spacing" style="">mmol,</text>
<text x="887.50" y="1240.70" font-family="Liberation Serif" font-size="31" font-weight="normal" text-anchor="start" fill="#000"  stroke="#000" stroke-width="0.35" textLength="16.6" lengthAdjust="spacing" style="">3</text>
<text x="914.20" y="1240.70" font-family="Liberation Serif" font-size="31" font-weight="normal" text-anchor="start" fill="#000"  stroke="#000" stroke-width="0.35" textLength="96.6" lengthAdjust="spacing" style="">equiv),</text>
<text x="32.50" y="1281.70" font-family="Liberation Serif" font-size="31" font-weight="normal" text-anchor="start" fill="#000"  stroke="#000" stroke-width="0.35" textLength="245.0" lengthAdjust="spacing" style="">[Rh(cod)(OH)]<tspan font-size="21" baseline-shift="-7">2</tspan></text>
<text x="290.90" y="1281.70" font-family="Liberation Serif" font-size="31" font-weight="normal" text-anchor="start" fill="#000"  stroke="#000" stroke-width="0.35" textLength="88.2" lengthAdjust="spacing" style="">(0.015</text>
<text x="390.90" y="1281.70" font-family="Liberation Serif" font-size="31" font-weight="normal" text-anchor="start" fill="#000"  stroke="#000" stroke-width="0.35" textLength="86.6" lengthAdjust="spacing" style="">mmol,</text>
<text x="490.90" y="1281.70" font-family="Liberation Serif" font-size="31" font-weight="normal" text-anchor="start" fill="#000"  stroke="#000" stroke-width="0.35" textLength="16.6" lengthAdjust="spacing" style="">3</text>
<text x="517.50" y="1281.70" font-family="Liberation Serif" font-size="31" font-weight="normal" text-anchor="start" fill="#000"  stroke="#000" stroke-width="0.35" textLength="101.6" lengthAdjust="spacing" style="">mol%),</text>
<text x="630.90" y="1281.70" font-family="Liberation Serif" font-size="31" font-weight="normal" text-anchor="start" fill="#000"  stroke="#000" stroke-width="0.35" textLength="83.2" lengthAdjust="spacing" style="">ligand</text>
<text x="727.50" y="1281.70" font-family="Liberation Serif" font-size="31" font-weight="normal" text-anchor="start" fill="#000"  stroke="#000" stroke-width="0.35" textLength="90.0" lengthAdjust="spacing" style="">(0.035</text>
<text x="829.20" y="1281.70" font-family="Liberation Serif" font-size="31" font-weight="normal" text-anchor="start" fill="#000"  stroke="#000" stroke-width="0.35" textLength="88.3" lengthAdjust="spacing" style="">mmol,</text>
<text x="927.50" y="1281.70" font-family="Liberation Serif" font-size="31" font-weight="normal" text-anchor="start" fill="#000"  stroke="#000" stroke-width="0.35" textLength="16.6" lengthAdjust="spacing" style="">7</text>
<text x="957.50" y="1281.70" font-family="Liberation Serif" font-size="31" font-weight="normal" text-anchor="start" fill="#000"  stroke="#000" stroke-width="0.35" textLength="53.3" lengthAdjust="spacing" style="">mol</text>
<text x="32.50" y="1321.70" font-family="Liberation Serif" font-size="31" font-weight="normal" text-anchor="start" fill="#000"  stroke="#000" stroke-width="0.35" textLength="51.6" lengthAdjust="spacing" style="">%),</text>
<text x="89.20" y="1321.70" font-family="Liberation Serif" font-size="31" font-weight="normal" text-anchor="start" fill="#000"  stroke="#000" stroke-width="0.35" textLength="39.9" lengthAdjust="spacing" style="">aq.</text>
<text x="139.20" y="1321.70" font-family="Liberation Serif" font-size="31" font-weight="normal" text-anchor="start" fill="#000"  stroke="#000" stroke-width="0.35" textLength="89.9" lengthAdjust="spacing" style="">CsOH</text>
<text x="240.90" y="1321.70" font-family="Liberation Serif" font-size="31" font-weight="normal" text-anchor="start" fill="#000"  stroke="#000" stroke-width="0.35" textLength="28.2" lengthAdjust="spacing" style="">(1</text>
<text x="280.90" y="1321.70" font-family="Liberation Serif" font-size="31" font-weight="normal" text-anchor="start" fill="#000"  stroke="#000" stroke-width="0.35" textLength="89.9" lengthAdjust="spacing" style="">mmol,</text>
<text x="379.20" y="1321.70" font-family="Liberation Serif" font-size="31" font-weight="normal" text-anchor="start" fill="#000"  stroke="#000" stroke-width="0.35" textLength="18.3" lengthAdjust="spacing" style="">2</text>
<text x="405.90" y="1321.70" font-family="Liberation Serif" font-size="31" font-weight="normal" text-anchor="start" fill="#000"  stroke="#000" stroke-width="0.35" textLength="98.2" lengthAdjust="spacing" style="">equiv),</text>
<text x="512.50" y="1321.70" font-family="Liberation Serif" font-size="31" font-weight="normal" text-anchor="start" fill="#000"  stroke="#000" stroke-width="0.35" textLength="131.6" lengthAdjust="spacing" style="">THP:Tol</text>
<text x="655.90" y="1321.70" font-family="Liberation Serif" font-size="31" font-weight="normal" text-anchor="start" fill="#000"  stroke="#000" stroke-width="0.35" textLength="63.2" lengthAdjust="spacing" style="">(1:1,</text>
<text x="729.20" y="1321.70" font-family="Liberation Serif" font-size="31" font-weight="normal" text-anchor="start" fill="#000"  stroke="#000" stroke-width="0.35" textLength="41.6" lengthAdjust="spacing" style="">0.5</text>
<text x="779.20" y="1321.70" font-family="Liberation Serif" font-size="31" font-weight="normal" text-anchor="start" fill="#000"  stroke="#000" stroke-width="0.35" textLength="73.3" lengthAdjust="spacing" style="">mL),</text>
<text x="860.90" y="1321.70" font-family="Liberation Serif" font-size="31" font-weight="normal" text-anchor="start" fill="#000"  stroke="#000" stroke-width="0.35" textLength="63.2" lengthAdjust="spacing" style="">H<tspan font-size="21" baseline-shift="-7">2</tspan>O</text>
<text x="935.90" y="1321.70" font-family="Liberation Serif" font-size="31" font-weight="normal" text-anchor="start" fill="#000"  stroke="#000" stroke-width="0.35" textLength="73.2" lengthAdjust="spacing" style="">(0.25</text>
<text x="30.90" y="1363.30" font-family="Liberation Serif" font-size="31" font-weight="normal" text-anchor="start" fill="#000"  stroke="#000" stroke-width="0.35" textLength="69.9" lengthAdjust="spacing" style="">mL),</text>
<text x="114.20" y="1363.30" font-family="Liberation Serif" font-size="31" font-weight="normal" text-anchor="start" fill="#000"  stroke="#000" stroke-width="0.35" textLength="34.9" lengthAdjust="spacing" style="">70</text>
<text x="162.50" y="1363.30" font-family="Liberation Serif" font-size="31" font-weight="normal" text-anchor="start" fill="#000"  stroke="#000" stroke-width="0.35" textLength="45.0" lengthAdjust="spacing" style="">°C,</text>
<text x="219.20" y="1363.30" font-family="Liberation Serif" font-size="31" font-weight="normal" text-anchor="start" fill="#000"  stroke="#000" stroke-width="0.35" textLength="34.9" lengthAdjust="spacing" style="">20</text>
<text x="267.50" y="1363.30" font-family="Liberation Serif" font-size="31" font-weight="normal" text-anchor="start" fill="#000"  stroke="#000" stroke-width="0.35" textLength="25.0" lengthAdjust="spacing" style="">h.</text>
<text x="307.50" y="1363.30" font-family="Liberation Serif" font-size="31" font-weight="normal" text-anchor="start" fill="#000"  stroke="#000" stroke-width="0.35" textLength="121.6" lengthAdjust="spacing" style=""><tspan font-style="italic" font-size="21" baseline-shift="15">b</tspan>Isolated</text>
<text x="444.20" y="1363.30" font-family="Liberation Serif" font-size="31" font-weight="normal" text-anchor="start" fill="#000"  stroke="#000" stroke-width="0.35" textLength="66.6" lengthAdjust="spacing" style="">yield</text>
<text x="524.20" y="1363.30" font-family="Liberation Serif" font-size="31" font-weight="normal" text-anchor="start" fill="#000"  stroke="#000" stroke-width="0.35" textLength="61.6" lengthAdjust="spacing" style="">(%).</text></svg>
</body></html>
